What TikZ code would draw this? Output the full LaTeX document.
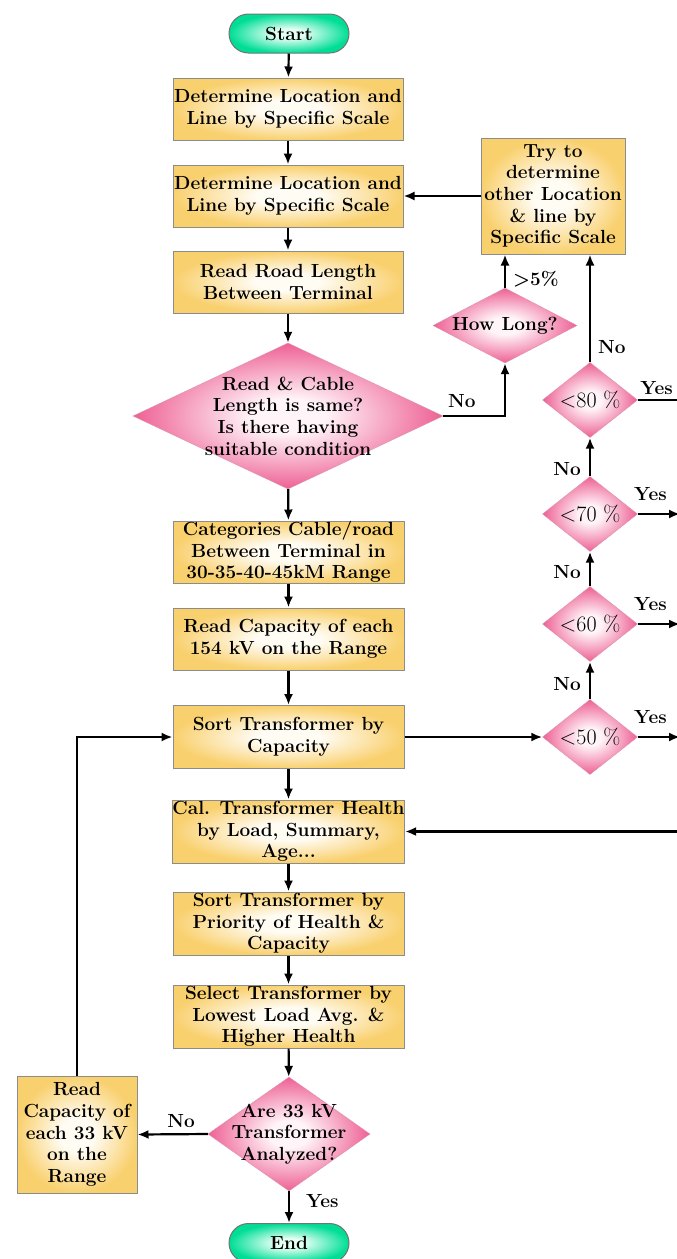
\documentclass[tikz,border=0pt]{standalone}
\usepackage{tikz}
\usetikzlibrary{arrows.meta}
\usetikzlibrary{shapes.geometric}
\definecolor{mbox}{RGB}{249, 208, 110}
\definecolor{mboxin}{RGB}{255, 252, 244}
\definecolor{mpink}{RGB}{238, 96, 148}
\definecolor{mpinkin}{RGB}{255, 244, 248}
\definecolor{mgreen}{RGB}{0, 222, 150}
\definecolor{mgreenin}{RGB}{228, 255, 244}
\pgfdeclareradialshading{boxshade}{\pgfpoint{0bp}{0bp}}{color(0bp)=(mboxin); color(7bp)=(mboxin); color(25bp)=(mbox); color(50bp)=(mbox)}
\pgfdeclareradialshading{pinkshade}{\pgfpoint{0bp}{0bp}}{color(0bp)=(mpinkin); color(6bp)=(mpinkin); color(25bp)=(mpink); color(50bp)=(mpink)}
\pgfdeclareradialshading{greenshade}{\pgfpoint{0bp}{0bp}}{color(0bp)=(mgreenin); color(6bp)=(mgreenin); color(25bp)=(mgreen); color(50bp)=(mgreen)}
\tikzset{procbox/.style = {rectangle, draw = black!45, line width = 1pt, shading = boxshade, inner sep = 0, align = center}}
\tikzset{decide/.style = {diamond, draw = mpink!80!black!60, shading = pinkshade, inner sep = 0}}
\tikzset{term/.style = {rectangle, rounded corners = 19.5, draw = black!55, line width = 1pt, shading = greenshade, minimum width = 120, minimum height = 39, inner sep = 0}}
\tikzset{arr/.style = {-{Latex[length = 11pt, width = 9pt]}, line width = 2.2pt}}
\tikzset{lbl/.style = {inner sep = 2}}

\begin{document}
\begin{tikzpicture}[x=1pt, y=-1pt, font=\bfseries\fontsize{19}{21.6}\selectfont]
       \useasboundingbox (0, 0) rectangle (677, 1259);

       \node [term] (start) at (289, 33.5) {Start};
       \node [procbox, minimum width = 230, minimum height = 62] (b1) at (288, 109) {Determine Location and\\Line by Specific Scale};
       \node [procbox, minimum width = 230, minimum height = 62] (b2) at (288, 196) {Determine Location and\\Line by Specific Scale};
       \node [procbox, minimum width = 230, minimum height = 62] (b3) at (288, 282) {Read Road Length\\Between Terminal};
       \node [decide, minimum width = 310, minimum height = 146] (d1) at (288, 416) {};
       \node [align = center] (d1t) at (d1) {Read \& Cable\\Length is same?\\Is there having\\suitable condition};
       \node [procbox, minimum width = 231, minimum height = 62] (b4) at (288.5, 552) {Categories Cable/road\\Between Terminal in\\30-35-40-45kM Range};
       \node [procbox, minimum width = 231, minimum height = 62] (b5) at (288.5, 639) {Read Capacity of each\\154 kV on the Range};
       \node [procbox, minimum width = 231, minimum height = 63] (b6) at (288.5, 737) {Sort Transformer by\\Capacity};
       \node [procbox, minimum width = 231, minimum height = 63] (b7) at (288.5, 831.5) {Cal. Transformer Health\\by Load, Summary,\\Age...};
       \node [procbox, minimum width = 231, minimum height = 63] (b8) at (288.5, 923.5) {Sort Transformer by\\Priority of Health \&\\Capacity};
       \node [procbox, minimum width = 231, minimum height = 63] (b9) at (288.5, 1016.5) {Select Transformer by\\Lowest Load Avg. \&\\Higher Health};
       \node [decide, minimum width = 162, minimum height = 114] (d2) at (289, 1134) {};
       \node [align = center] (d2t) at (d2) {Are 33 kV\\Transformer\\Analyzed?};
       \node [term] (end) at (289, 1243) {End};
       \node [procbox, minimum width = 120, minimum height = 117] (rb) at (77, 1134.5) {Read\\Capacity of\\each 33 kV\\on the\\Range};

       \node [procbox, minimum width = 144, minimum height = 116] (try) at (553, 196) {Try to\\determine\\other Location\\\& line by\\Specific Scale};
       \node [decide, minimum width = 144, minimum height = 75] (hl) at (505, 325.5) {};
       \node (hlt) at (hl) {How Long?};
       \foreach \p/\y in {80/400, 70/514, 60/624, 50/737} {
              \node [decide, minimum width = 95, minimum height = 75] (p\p) at (590, \y) {};
              \node [font = \fontsize{22}{24}\selectfont] (p\p t) at (p\p) {<\p\ \%};
              \coordinate (e\p) at (680, \y);
       }
       \coordinate (e7) at (677, 831.5);

       \draw [arr] (start) -- (b1);
       \draw [arr] (b1) -- (b2);
       \draw [arr] (b2) -- (b3);
       \draw [arr] (b3) -- (d1);
       \draw [arr] (d1) -- (b4);
       \draw [arr] (b4) -- (b5);
       \draw [arr] (b5) -- (b6);
       \draw [arr] (b6) -- (b7);
       \draw [arr] (b7) -- (b8);
       \draw [arr] (b8) -- (b9);
       \draw [arr] (b9) -- (d2);
       \draw [arr] (d2) -- (end) node [lbl, pos = 0.3, right, xshift = 14] {Yes};
       \draw [arr] (d2.west) -- (rb.east) node [lbl, pos = 0.38, above, yshift = 3] {No};
       \draw [arr] (rb.north) |- (b6.west);

       \draw [arr] (d1.east) -| (hl.south) node [lbl, pos = 0.15, above, yshift = 5] {No};
       \draw [arr] (hl.north) -- (hl.north |- try.south) node [lbl, pos = 0.25, right, xshift = 5] {>5\%};
       \draw [arr] (try.west) -- (b2.east);
       \draw [arr] (p80.north) -- (p80.north |- try.south) node [lbl, pos = 0.14, right, xshift = 5] {No};
       \draw [arr] (p70.north) -- (p80.south) node [lbl, pos = 0.2, left, xshift = -6] {No};
       \draw [arr] (p60.north) -- (p70.south) node [lbl, pos = 0.4, left, xshift = -6] {No};
       \draw [arr] (p50.north) -- (p60.south) node [lbl, pos = 0.4, left, xshift = -6] {No};
       \draw [arr] (b6.east) -- (p50.west);
       \draw [line width = 2.2pt] (p80.east) -- (e80) node [lbl, at end, above left, xshift = -4, yshift = 2] {Yes};
       \foreach \p in {70, 60, 50} {
              \draw [arr] (p\p.east) -- (e\p) node [lbl, pos = 0.3, above, yshift = 10] {Yes};
       }
       \draw [arr] (e7) -- (b7.east);
    \end{tikzpicture}
\end{document}
